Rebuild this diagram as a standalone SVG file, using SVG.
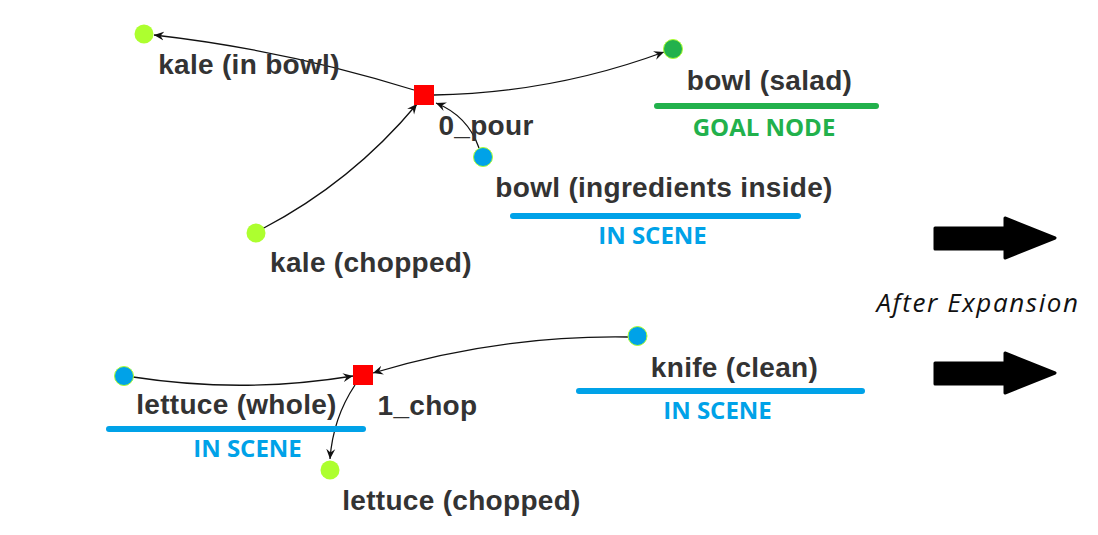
<svg xmlns="http://www.w3.org/2000/svg" width="1098" height="535" viewBox="0 0 1098 535">
<defs>
<marker id="arr" viewBox="0 0 10 10" refX="10" refY="5" markerWidth="10" markerHeight="10" markerUnits="userSpaceOnUse" orient="auto">
<path d="M0,0.5 L10,5 L0,9.5 L3.5,5 z" fill="#111"/>
</marker>
<style>
.lbl{font-family:"Liberation Sans",Arial,sans-serif;font-weight:bold;font-size:28px;letter-spacing:0.3px;fill:#333;text-anchor:middle}
.tag{font-family:"Open Sans","Noto Sans",sans-serif;font-weight:bold;font-size:24px;text-anchor:middle}
.edge{fill:none;stroke:#111;stroke-width:1.3;marker-end:url(#arr)}
.lime{fill:#adff2f}
.blue{fill:#00a2e8;stroke:#adff2f;stroke-width:1}
.goal{fill:#22b14c;stroke:#adff2f;stroke-width:1}
.act{fill:#ff0000}
.ulb{stroke:#00a2e8;stroke-width:6;stroke-linecap:round}
.ulg{stroke:#22b14c;stroke-width:6;stroke-linecap:round}
.big{fill:#000;stroke:#000;stroke-width:3;stroke-linejoin:round}
</style>
</defs>
<rect width="1098" height="535" fill="#fff"/>
<g id="connectors">
<path class="edge" d="M414,90 Q286,50 154,35"/>
<path class="edge" d="M434,95 Q553,93 664,52"/>
<path class="edge" d="M262,229 Q352,182 417,104"/>
<path class="edge" d="M479,148 Q468,116 436,103"/>
<path class="edge" d="M133,377 Q243,394 353,376"/>
<path class="edge" d="M628,337 Q498,335 373,373"/>
<path class="edge" d="M355,385 Q333,418 330,459"/>
</g>
<g id="node-kale-in-bowl">
<circle class="lime" cx="144" cy="34" r="9.5"/>
<text class="lbl" x="249" y="74">kale (in bowl)</text>
</g>
<g id="node-0-pour">
<rect class="act" x="414" y="85" width="20" height="20"/>
<text class="lbl" x="486" y="135">0_pour</text>
</g>
<g id="node-bowl-salad">
<circle class="goal" cx="673" cy="49" r="9.5"/>
<text class="lbl" x="769.5" y="90">bowl (salad)</text>
<line class="ulg" x1="657" y1="106" x2="876" y2="106"/>
<text class="tag" x="764" y="136" fill="#22b14c">GOAL NODE</text>
</g>
<g id="node-bowl-ingredients">
<circle class="blue" cx="483" cy="157" r="9.5"/>
<text class="lbl" x="664" y="197">bowl (ingredients inside)</text>
<line class="ulb" x1="513" y1="216" x2="798" y2="216"/>
<text class="tag" x="652.5" y="244" fill="#00a2e8">IN SCENE</text>
</g>
<g id="node-kale-chopped">
<circle class="lime" cx="256" cy="233" r="9.5"/>
<text class="lbl" x="371" y="272">kale (chopped)</text>
</g>
<g id="node-lettuce-whole">
<circle class="blue" cx="124" cy="376" r="9.5"/>
<text class="lbl" x="236.5" y="414">lettuce (whole)</text>
<line class="ulb" x1="109" y1="429" x2="363" y2="429"/>
<text class="tag" x="247.5" y="457" fill="#00a2e8">IN SCENE</text>
</g>
<g id="node-1-chop">
<rect class="act" x="353" y="365" width="20" height="20"/>
<text class="lbl" x="427.5" y="415">1_chop</text>
</g>
<g id="node-lettuce-chopped">
<circle class="lime" cx="330" cy="470" r="9.5"/>
<text class="lbl" x="461.5" y="510">lettuce (chopped)</text>
</g>
<g id="node-knife-clean">
<circle class="blue" cx="637.5" cy="336" r="9.5"/>
<text class="lbl" x="734.5" y="377">knife (clean)</text>
<line class="ulb" x1="579" y1="391" x2="862" y2="391"/>
<text class="tag" x="717.5" y="419" fill="#00a2e8">IN SCENE</text>
</g>
<g id="expansion">
<path class="big" d="M935,228 L1005,228 L1005,218 L1055,238 L1005,258 L1005,249 L935,249 z"/>
<path class="big" d="M935,363 L1005,363 L1005,353 L1055,373 L1005,393 L1005,384 L935,384 z"/>
<text x="978" y="312" font-family="'Open Sans','Noto Sans',sans-serif" font-style="italic" font-size="26" letter-spacing="1.6" fill="#111" text-anchor="middle">After Expansion</text>
</g>
</svg>
